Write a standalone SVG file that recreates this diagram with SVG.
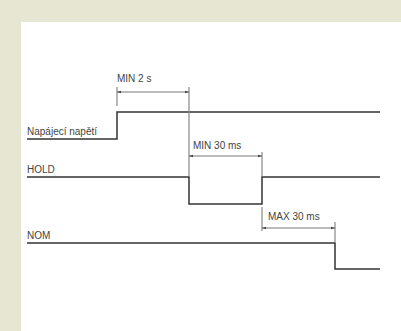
<svg xmlns="http://www.w3.org/2000/svg" width="401" height="331" viewBox="0 0 401 331">
<style>
.sig{fill:none;stroke:#333;stroke-width:1.5}
.dim{fill:none;stroke:#555;stroke-width:0.8}
.tick{fill:none;stroke:#888;stroke-width:1.2}
.lbl{font-family:"Liberation Sans",Arial,sans-serif;font-size:10px;fill:#444}
</style>
<defs>
<marker id="ah" viewBox="0 0 6 6" refX="6" refY="3" markerWidth="4" markerHeight="4" orient="auto-start-reverse" markerUnits="userSpaceOnUse">
<path d="M0,1 L6,3 L0,5 z" fill="#444"/>
</marker>
</defs>
<rect width="401" height="331" fill="#e6e6d2"/>
<rect x="21" y="22" width="380" height="309" fill="#fff"/>
<g id="napajeci">
<text class="lbl" x="27" y="135">Napájecí napětí</text>
<polyline class="sig" points="27,139 117,139 117,112 380,112"/>
</g>
<g id="hold">
<text class="lbl" x="27" y="173">HOLD</text>
<polyline class="sig" points="27,177 189,177 189,204 262,204 262,177 380,177"/>
</g>
<g id="nom">
<text class="lbl" x="27" y="239">NOM</text>
<polyline class="sig" points="27,243 335,243 335,269 380,269"/>
</g>
<g id="connectors">
<line class="tick" x1="117" y1="87" x2="117" y2="106"/>
<line class="tick" x1="189" y1="87" x2="189" y2="176"/>
<line class="dim" x1="117" y1="92" x2="189" y2="92" marker-start="url(#ah)" marker-end="url(#ah)"/>
<text class="lbl" x="117" y="82">MIN 2 s</text>
<line class="tick" x1="262" y1="152" x2="262" y2="176"/>
<line class="dim" x1="189" y1="156" x2="262" y2="156" marker-start="url(#ah)" marker-end="url(#ah)"/>
<text class="lbl" x="193" y="149">MIN 30 ms</text>
<line class="tick" x1="262" y1="207" x2="262" y2="231"/>
<line class="tick" x1="335" y1="222" x2="335" y2="242"/>
<line class="dim" x1="262" y1="228" x2="335" y2="228" marker-start="url(#ah)" marker-end="url(#ah)"/>
<text class="lbl" x="268" y="220">MAX 30 ms</text>
</g>
</svg>
